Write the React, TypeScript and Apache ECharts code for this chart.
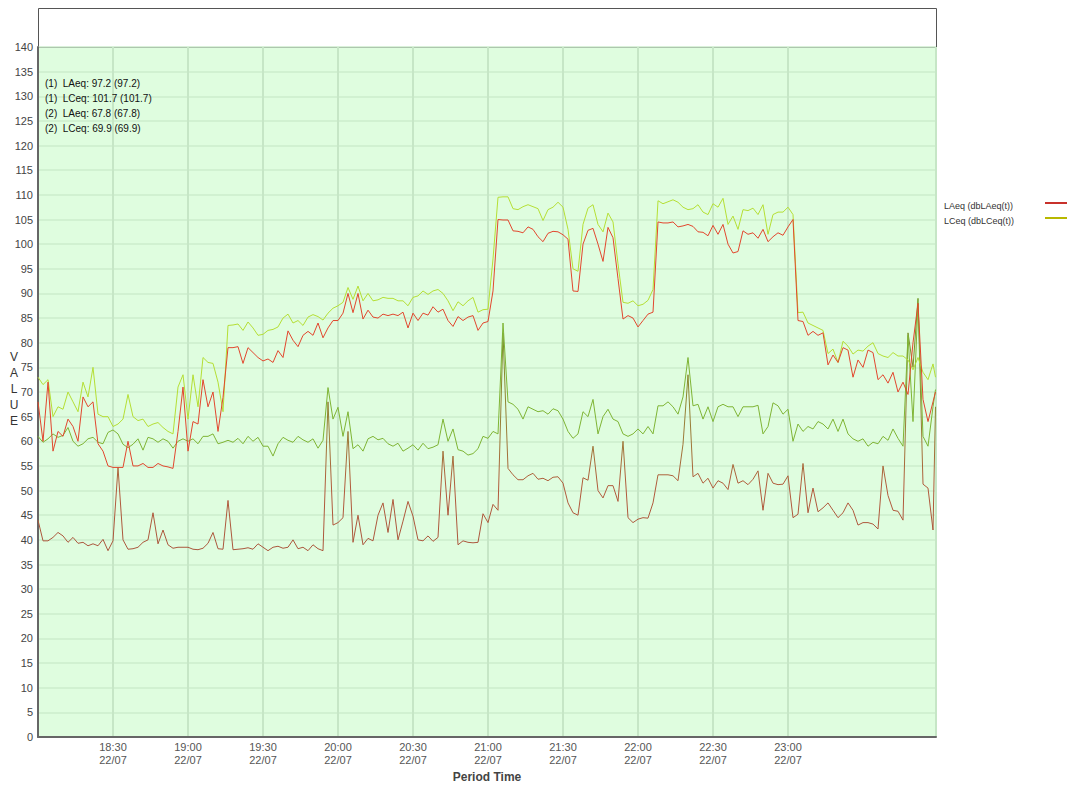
import React, { useEffect, useRef } from "react";
import * as echarts from "echarts";

// sampling: one reading every 2 minutes from 18:00 (minute 0), last reading at minute 359
const minutes: number[] = Array.from({ length: 180 }, (_, i) => i * 2).concat([359]);

const lceq1: number[] = [
  73, 71.5, 72.5, 65, 67, 66.5, 70, 68, 66, 72, 69, 75, 65.5, 65, 65, 63, 63.5, 64.5, 69.5, 65, 64.2, 64.5, 63, 63.5,
  63.8, 62.8, 62, 61.5, 71, 73.5, 64.5, 73.5, 67, 77, 76, 75.8, 72, 66, 83.5, 83.6, 83.8, 82.5, 84.2, 83, 81.5, 81.7,
  82.5, 82.7, 83.2, 85, 85.8, 84, 84.5, 83.5, 85.2, 85.7, 85.3, 84.6, 86, 87, 87.5, 88.2, 91.2, 88.8, 91.5, 88.5, 90, 88.5, 88.7,
  89.2, 89, 89, 88.5, 88.5, 87.5, 89.2, 89.5, 90.5, 89.8, 90.5, 90.8, 90, 88.5, 86.5, 88.3, 87.5, 88.5, 89.2, 86.2, 86.7, 86.8,
  97, 109.5, 109.6, 109.6, 107.2, 107, 107.6, 108, 107.6, 107.2, 104.8, 107, 107.5, 108.5, 107.5, 103, 95, 94.5, 104, 107.3, 108, 104, 102.5,
  106.3, 104.5, 96, 88.2, 88, 88.5, 87.5, 87.8, 88.6, 90.8, 108.8, 108.2, 108.6, 109, 108.5, 107.5, 107, 107.2, 108, 106.5, 106, 108.2,
  107.5, 109.3, 104, 105.7, 103, 107, 106.8, 107.3, 106, 108, 102, 106, 106.5, 106.5, 107.5, 106, 86.1, 86.2, 84, 83.5, 83, 82.5, 77.8,
  78.7, 76, 80.3, 79.3, 77.7, 78.5, 78.3, 79.3, 80, 77.8, 77.3, 77, 78, 77.3, 77.3, 76.5, 74.5, 77, 74, 72.5, 75.7,
  73,
];

const laeq1: number[] = [
  68, 60, 72, 58, 62, 61, 64.5, 63, 60, 69, 67, 68, 59.5, 58, 55, 54.7, 54.7, 54.7, 60, 55, 55, 55.5, 54.7, 54.7,
  55.5, 55, 54.8, 54.5, 62, 71, 58, 64, 63.5, 72.5, 67, 70, 62, 68.9, 79, 79, 79.2, 75.8, 79, 78, 77, 76.3,
  76.7, 76, 78.4, 77, 82.4, 80.5, 79.2, 81.5, 82.3, 81.5, 84, 81, 83, 84.5, 84.5, 86, 90, 86.1, 90, 84.8, 86.6, 85.2, 85,
  85.8, 85.5, 85.8, 85.5, 86.2, 83, 86, 84.5, 86, 85.6, 87.3, 86.2, 86.8, 84.5, 83.3, 85.3, 84.5, 85.2, 85.5, 82.5, 84, 84.3,
  90.5, 105, 104.9, 104.9, 102.7, 102.6, 102.3, 103.5, 103, 101.5, 100.5, 102.2, 102.6, 102.5, 101.9, 101, 90.5, 90.4, 100, 102.8, 103.2, 100, 96.5,
  103.4, 101.3, 93, 84.8, 85.5, 85, 83.2, 84.5, 85.8, 86.2, 104.5, 104.3, 104.3, 104.5, 103.5, 103.7, 104, 103.6, 102.5, 102.4, 101.7, 103.8,
  102, 104, 100, 98.2, 98.5, 102.7, 102, 102.3, 101.2, 103, 100.5, 101.5, 102.3, 101.8, 103.5, 105, 84.5, 84.3, 81.5, 82.3, 81.5, 82, 75.5,
  77.5, 76, 79, 78.5, 73, 76.5, 75, 78.5, 78, 72.5, 73.5, 71.8, 74, 70, 72, 69.5, 80, 88, 68.5, 64, 68,
  70,
];

const lceq2: number[] = [
  61, 59.8, 60.5, 61.5, 60.8, 61.2, 62.8, 60, 59, 59.5, 60.5, 60.8, 59.8, 59.5, 61.8, 62.3, 61.5, 59.4, 58.7, 59.4, 60.5, 58.2, 60.8, 60.5,
  59.8, 60.5, 60, 58.6, 60, 60.5, 60, 60.5, 59.5, 61, 61, 61.5, 59.5, 59.8, 60.2, 59.8, 60.6, 59.5, 61, 60, 60.8, 59,
  59, 57, 59.5, 60.8, 60.2, 59.8, 61, 60.3, 59.8, 60.5, 58.6, 60.2, 70.9, 64.5, 66.9, 61, 66, 58.5, 59.3, 58, 60.5, 61, 60.3,
  60.6, 59.5, 59, 59.6, 58, 58.6, 59.3, 58.2, 59.6, 58.5, 58.8, 59.3, 64.5, 60, 62.5, 58.3, 58, 57.2, 57.5, 58.5, 61, 60.6,
  62, 61.5, 84, 68, 67.5, 66.5, 64.5, 67, 66.5, 66, 66.2, 65.5, 66.6, 66.2, 64.5, 62, 60.6, 61.5, 66, 65, 68.5, 61.5, 65,
  66.5, 64.5, 64, 61.5, 61, 61.5, 62.5, 61.5, 63, 61.5, 67.2, 67.2, 68, 67, 65.5, 69, 77, 67.2, 67.5, 64.5, 67, 64,
  67, 67.5, 67, 67, 65, 67, 67, 67, 67.3, 61.5, 63, 67.8, 67.2, 65.5, 66.5, 60, 63.5, 62, 63, 62.5, 64, 63.5, 62.5,
  64.5, 62, 64.5, 61.5, 60.5, 60, 60.5, 59, 59.8, 59.5, 61, 60.2, 62.5, 60.6, 59, 81.5, 64, 88, 61, 59, 67,
  70.5,
];

const laeq2: number[] = [
  44, 39.8, 39.8, 40.5, 41.5, 40.8, 39.5, 40.5, 39.3, 39.5, 38.8, 39.2, 38.8, 40.1, 37.8, 39.8, 54.7, 40, 38.1, 38.2, 38.5, 39.5, 40, 45.5,
  39.2, 42, 39, 38.3, 38.5, 38.5, 38.5, 38.1, 38, 38.3, 39.3, 41.5, 38.2, 38.1, 48, 38, 38.1, 38.2, 38.4, 38.1, 39.2, 38.5,
  37.8, 38.5, 38.7, 38.3, 38.5, 40, 38.2, 38.5, 37.8, 39, 38.2, 37.8, 68, 43, 43.5, 44.5, 62, 39.5, 45, 39, 40.3, 39.8, 45,
  47.5, 41.5, 48.2, 40, 43.8, 47.8, 44.8, 40, 39.8, 40.8, 39.7, 40.5, 58, 45, 57, 39, 39.8, 39.5, 39.4, 39.5, 45.3, 43.5,
  47.2, 46, 82, 54.5, 53.2, 52.2, 52.2, 53, 53.5, 52.3, 52.5, 52, 52.7, 52.8, 51.5, 47.5, 45.5, 45, 52.6, 52.1, 59, 50, 48.5,
  51, 51, 47.8, 60, 44.5, 43.5, 44.2, 44.5, 44.4, 47.5, 53.2, 53.2, 53.2, 53, 52, 59.4, 73.5, 52.8, 53.5, 51.5, 52.5, 50.5,
  52, 51.5, 50.2, 55.3, 51.5, 52, 51.2, 52.3, 54, 46, 53.5, 51.5, 51.2, 51.3, 53, 44.5, 45.2, 55.5, 45.5, 50.5, 45.7, 46.5, 47.5,
  46, 44.5, 45.5, 47.5, 46, 43, 43.5, 43.5, 43.2, 42.2, 55, 49, 46, 45.8, 44, 82, 75, 89, 51.3, 50.5, 42,
  67,
];

const summaryLines: string[] = [
  "(1)  LAeq: 97.2 (97.2)",
  "(1)  LCeq: 101.7 (101.7)",
  "(2)  LAeq: 67.8 (67.8)",
  "(2)  LCeq: 69.9 (69.9)",
];

const legendNames: string[] = ["LAeq (dbLAeq(t))", "LCeq (dbLCeq(t))"];
const dateLabel = "22/07";

const FONT = "'Liberation Sans', Arial, Helvetica, sans-serif";

function pairs(vals: number[]) {
  return vals.map((v, i) => [minutes[i], v]);
}

function timeLabel(v: number): string {
  if (v <= 0 || v >= 330 || v % 30 !== 0) return "";
  const h = 18 + Math.floor(v / 60);
  const m = v % 60;
  return `${h}:${m === 0 ? "00" : String(m)}\n${dateLabel}`;
}

export default function App() {
  const ref = useRef<HTMLDivElement>(null);
  useEffect(() => {
    if (!ref.current) return;
    const chart = echarts.init(ref.current, undefined, { renderer: "svg" });
    const vColors = Array.from({ length: 12 }, (_, i) => (i === 11 ? "rgba(0,0,0,0)" : "#c6e6c6"));
    const option: any = {
      animation: false,
      backgroundColor: "#ffffff",
      textStyle: { fontFamily: FONT },
      grid: {
        left: 38,
        top: 47,
        right: 131,
        bottom: 48,
        show: true,
        backgroundColor: "#dffddf",
        borderWidth: 0,
        containLabel: false,
        outerBoundsMode: "none",
      },
      xAxis: {
        type: "value",
        min: 0,
        max: 359.2,
        interval: 30,
        axisLine: { show: true, lineStyle: { color: "#666666", width: 2 } },
        axisTick: { show: false },
        axisLabel: {
          formatter: timeLabel,
          color: "#555555",
          fontSize: 11,
          lineHeight: 13,
          margin: 3,
          fontFamily: FONT,
        },
        splitLine: { show: true, lineStyle: { color: vColors, width: 2 } },
        name: "Period Time",
        nameLocation: "middle",
        nameGap: 34,
        nameTextStyle: { fontWeight: "bold", fontSize: 12, color: "#444444", fontFamily: FONT },
      },
      yAxis: {
        type: "value",
        min: 0,
        max: 140,
        interval: 5,
        axisLine: { show: true, lineStyle: { color: "#666666", width: 2 } },
        axisTick: { show: false },
        axisLabel: { color: "#444444", fontSize: 11, margin: 5, fontFamily: FONT },
        splitLine: { show: true, lineStyle: { color: "#cdeccd", width: 1.5 } },
      },
      series: [
        {
          name: "(2) LAeq",
          type: "line",
          showSymbol: false,
          data: pairs(laeq2),
          lineStyle: {
            width: 1,
            color: {
              type: "linear",
              x: 0,
              y: 0,
              x2: 0,
              y2: 1,
              colorStops: [
                { offset: 0, color: "#6f9a22" },
                { offset: 0.55, color: "#9c7a38" },
                { offset: 0.75, color: "#b25a3c" },
                { offset: 1, color: "#aa563c" },
              ],
            },
          },
          z: 2,
        },
        {
          name: "(2) LCeq",
          type: "line",
          showSymbol: false,
          data: pairs(lceq2),
          lineStyle: { width: 1, color: "#7fb535" },
          z: 3,
        },
        {
          name: "(1) LCeq",
          type: "line",
          showSymbol: false,
          data: pairs(lceq1),
          lineStyle: { width: 1, color: "#b5df35" },
          z: 4,
        },
        {
          name: "(1) LAeq",
          type: "line",
          showSymbol: false,
          data: pairs(laeq1),
          lineStyle: { width: 1, color: "#e2472e" },
          z: 5,
        },
      ],
      graphic: [
        {
          type: "rect",
          shape: { x: 38.5, y: 8.5, width: 898, height: 39 },
          style: { fill: "#ffffff", stroke: "#555555", lineWidth: 1 },
          silent: true,
        },
        ...summaryLines.map((t, i) => ({
          type: "text",
          x: 45,
          y: 83 + i * 15,
          style: {
            text: t,
            fill: "#111111",
            font: `10px ${FONT}`,
            verticalAlign: "middle",
          },
          z: 10,
        })),
        {
          type: "text",
          x: 14,
          y: 389,
          style: {
            text: "V\nA\nL\nU\nE",
            fill: "#333333",
            font: `12px ${FONT}`,
            lineHeight: 16,
            align: "center",
            verticalAlign: "middle",
          },
        },
        {
          type: "text",
          x: 944,
          y: 206,
          style: { text: legendNames[0], fill: "#333333", font: `9px ${FONT}`, verticalAlign: "middle" },
        },
        {
          type: "line",
          shape: { x1: 1045, y1: 203, x2: 1067, y2: 203 },
          style: { stroke: "#c8312b", lineWidth: 2 },
        },
        {
          type: "text",
          x: 944,
          y: 221,
          style: { text: legendNames[1], fill: "#333333", font: `9px ${FONT}`, verticalAlign: "middle" },
        },
        {
          type: "line",
          shape: { x1: 1045, y1: 218, x2: 1067, y2: 218 },
          style: { stroke: "#b8b800", lineWidth: 2 },
        },
      ],
    };
    chart.setOption(option);
    return () => chart.dispose();
  }, []);
  return (
    <div
      ref={ref}
      style={{ position: "fixed", left: 0, top: 0, width: 1067, height: 785 }}
    />
  );
}
